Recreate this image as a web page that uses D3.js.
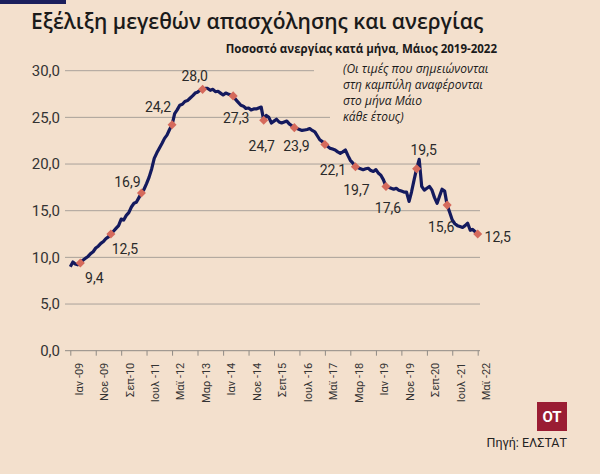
<!DOCTYPE html>
<html>
<head>
<meta charset="utf-8">
<script src="https://cdn.jsdelivr.net/npm/d3@7/dist/d3.min.js"></script>
<style>
  body { margin: 0; background: #f3e0cd; }
  svg { display: block; }
</style>
</head>
<body>
<div id="chart"></div>
<script>
// monthly unemployment rate (%), Jan 2009 - May 2022
const rate2009 = [9.0, 9.5, 9.3, 9.2, 9.4, 9.7, 9.9, 10.1, 10.4, 10.6, 11.0, 11.2];
const rate2010 = [11.5, 11.7, 12.0, 12.2, 12.5, 12.8, 13.1, 13.4, 14.1, 14.0, 14.5, 14.8];
const rate2011 = [15.4, 15.8, 15.9, 16.4, 16.9, 17.3, 17.9, 18.6, 19.5, 20.6, 21.2, 21.7];
const rate2012 = [22.2, 22.75, 23.1, 23.7, 24.2, 25.4, 25.8, 26.3, 26.4, 26.7, 26.8, 27.05];
const rate2013 = [27.3, 27.6, 27.7, 27.9, 28.0, 28.1, 28.1, 27.9, 28.0, 27.75, 27.8, 27.6];
const rate2014 = [27.4, 27.6, 27.5, 27.4, 27.3, 26.9, 26.6, 26.3, 26.2, 25.95, 26.0, 25.8];
const rate2015 = [25.9, 25.9, 26.0, 26.1, 24.7, 25.2, 25.0, 24.4, 24.6, 24.8, 24.5, 24.4];
const rate2016 = [24.5, 24.6, 24.3, 24.1, 23.9, 23.8, 23.7, 23.6, 23.65, 23.7, 23.8, 23.6];
const rate2017 = [23.45, 23.0, 22.6, 22.4, 22.1, 21.9, 21.7, 21.6, 21.5, 21.3, 21.15, 21.3];
const rate2018 = [21.5, 20.9, 20.4, 20.1, 19.7, 19.6, 19.5, 19.4, 19.5, 19.55, 19.3, 19.2];
const rate2019 = [19.4, 19.0, 18.8, 18.3, 17.6, 17.5, 17.4, 17.3, 17.4, 17.2, 17.1, 17.0];
const rate2020 = [17.0, 16.0, 17.0, 18.3, 19.5, 20.5, 17.6, 17.2, 17.4, 17.6, 17.2, 16.4];
const rate2021 = [15.8, 16.6, 17.3, 17.1, 15.6, 14.8, 14.0, 13.6, 13.4, 13.3, 13.2, 13.4];
const rate2022 = [13.65, 12.9, 13.0, 12.75, 12.5];

const years = [2009, 2010, 2011, 2012, 2013, 2014, 2015, 2016, 2017, 2018, 2019, 2020, 2021, 2022];
const yearly = [rate2009, rate2010, rate2011, rate2012, rate2013, rate2014, rate2015,
                rate2016, rate2017, rate2018, rate2019, rate2020, rate2021, rate2022];

const xTickLabels = ['Ιαν -09', 'Νοε -09', 'Σεπ-10', 'Ιουλ -11', 'Μαϊ -12', 'Μαρ -13', 'Ιαν -14',
                     'Νοε -14', 'Σεπ-15', 'Ιουλ -16', 'Μαϊ -17', 'Μαρ -18', 'Ιαν -19', 'Νοε -19',
                     'Σεπ-20', 'Ιουλ -21', 'Μαϊ -22'];
const yTicks = [0, 5, 10, 15, 20, 25, 30];

// where each May label sits relative to its marker (px)
const labelPlacement = [[14, 15], [14, 15], [-14, -11], [-14, -18], [-8, -13], [3, 22], [-2, 26],
                        [2, 18], [8, 26], [1, 23], [2, 22], [7, -19], [-6, 22], [20, 3]];

const width = 600;
const height = 474;
const bg = '#f3e0cd';

const series = [];
yearly.forEach((arr, i) => {
  arr.forEach((v, m) => series.push({ date: new Date(years[i], m, 1), y: v }));
});
const mays = series.filter((d) => d.date.getMonth() === 4);

const fmt = (v) => d3.format('.1f')(v).replace('.', ',');

const svg = d3
  .select('#chart')
  .append('svg')
  .attr('width', width)
  .attr('height', height)
  .attr('viewBox', [0, 0, width, height]);

svg.append('rect').attr('width', width).attr('height', height).attr('fill', bg);
svg.append('rect').attr('x', 0).attr('y', 0).attr('width', 66).attr('height', 4).attr('fill', '#1b1f5c');

svg.append('text')
  .attr('x', 31).attr('y', 29)
  .attr('font-family', 'Open Sans, sans-serif')
  .attr('font-size', 21)
  .attr('font-weight', 600)
  .attr('fill', '#1a1a1a')
  .text('Εξέλιξη μεγεθών απασχόλησης και ανεργίας');

svg.append('text')
  .attr('x', 497).attr('y', 53)
  .attr('text-anchor', 'end')
  .attr('font-family', 'Open Sans, sans-serif')
  .attr('font-size', 11.5)
  .attr('font-weight', 700)
  .attr('fill', '#1a1a1a')
  .text('Ποσοστό ανεργίας κατά μήνα, Μάιος 2019-2022');

const x_scale = d3
  .scaleTime()
  .domain([new Date(2009, 0, 1), new Date(2022, 4, 1)])
  .range([70.3, 477.7]);
const y_scale = d3.scaleLinear().domain([0, 30]).range([350.7, 70.7]);

// gridlines
const grid = svg.append('g');
grid.selectAll('line')
  .data(yTicks.filter((d) => d > 0))
  .enter()
  .append('line')
  .attr('x1', 65)
  .attr('x2', (d) => (d === 30 ? 314 : d === 25 ? 330 : 480))
  .attr('y1', (d) => y_scale(d))
  .attr('y2', (d) => y_scale(d))
  .attr('stroke', '#a9a29a')
  .attr('stroke-width', 1);

const y_axis = d3.axisLeft(y_scale).tickValues(yTicks).tickFormat(fmt).tickSize(0).tickPadding(5);
const yAxis = svg.append('g').attr('transform', 'translate(65,0)').call(y_axis);
yAxis.select('.domain').remove();
yAxis.selectAll('text')
  .attr('font-family', 'Roboto, sans-serif')
  .attr('font-size', 15)
  .attr('fill', '#333');

const xTickDates = xTickLabels.map((d, i) => new Date(2009, i * 10, 1));
const x_axis = d3.axisBottom(x_scale).tickValues(xTickDates).tickSize(5).tickSizeOuter(0)
  .tickFormat((d, i) => xTickLabels[i]);
const xAxis = svg.append('g').attr('transform', `translate(0, ${y_scale(0)})`).call(x_axis);
xAxis.select('.domain').attr('d', `M65,0H480`).attr('stroke', '#8f8a84');
xAxis.selectAll('.tick line').attr('stroke', '#8f8a84');
xAxis.selectAll('text')
  .attr('font-family', 'Roboto, sans-serif')
  .attr('font-size', 11)
  .attr('fill', '#333')
  .attr('text-anchor', 'end')
  .attr('dy', '0.35em')
  .attr('transform', 'translate(0, 12) rotate(-90)');

// annotation
const note = ['(Οι τιμές που σημειώνονται', 'στη καμπύλη αναφέρονται', 'στο μήνα Μάιο', 'κάθε έτους)'];
svg.append('g').selectAll('text')
  .data(note)
  .enter()
  .append('text')
  .attr('x', 343)
  .attr('y', (d, i) => 73 + i * 16)
  .attr('font-family', 'Open Sans, sans-serif')
  .attr('font-style', 'italic')
  .attr('font-size', 12)
  .attr('fill', '#1a1a1a')
  .text((d) => d);

const line = d3.line().x((d) => x_scale(d.date)).y((d) => y_scale(d.y)).curve(d3.curveLinear);
svg.append('path')
  .datum(series)
  .attr('d', line)
  .attr('fill', 'none')
  .attr('stroke', '#141a5e')
  .attr('stroke-width', 3.2)
  .attr('stroke-linejoin', 'round');

const marks = svg.append('g').selectAll('g').data(mays).enter().append('g');
marks.append('rect')
  .attr('x', -3.2).attr('y', -3.2)
  .attr('width', 6.4).attr('height', 6.4)
  .attr('fill', '#d56a5c')
  .attr('transform', (d) => `translate(${x_scale(d.date)},${y_scale(d.y)}) rotate(45)`);
marks.append('text')
  .attr('x', (d, i) => x_scale(d.date) + labelPlacement[i][0])
  .attr('y', (d, i) => y_scale(d.y) + labelPlacement[i][1])
  .attr('text-anchor', 'middle')
  .attr('dominant-baseline', 'central')
  .attr('font-family', 'Roboto, sans-serif')
  .attr('font-size', 14)
  .attr('fill', '#2a2a2a')
  .text((d) => fmt(d.y));

// logo and source
svg.append('rect').attr('x', 537).attr('y', 402).attr('width', 30).attr('height', 29).attr('fill', '#9a1d33');
svg.append('text')
  .attr('x', 552).attr('y', 417)
  .attr('text-anchor', 'middle')
  .attr('dominant-baseline', 'central')
  .attr('font-family', 'Roboto, sans-serif')
  .attr('font-weight', 700)
  .attr('font-size', 15)
  .attr('fill', '#fff')
  .text('OT');
svg.append('text')
  .attr('x', 567).attr('y', 447)
  .attr('text-anchor', 'end')
  .attr('font-family', 'Roboto, sans-serif')
  .attr('font-size', 12.5)
  .attr('fill', '#222')
  .text('Πηγή: ΕΛΣΤΑΤ');
</script>
</body>
</html>
